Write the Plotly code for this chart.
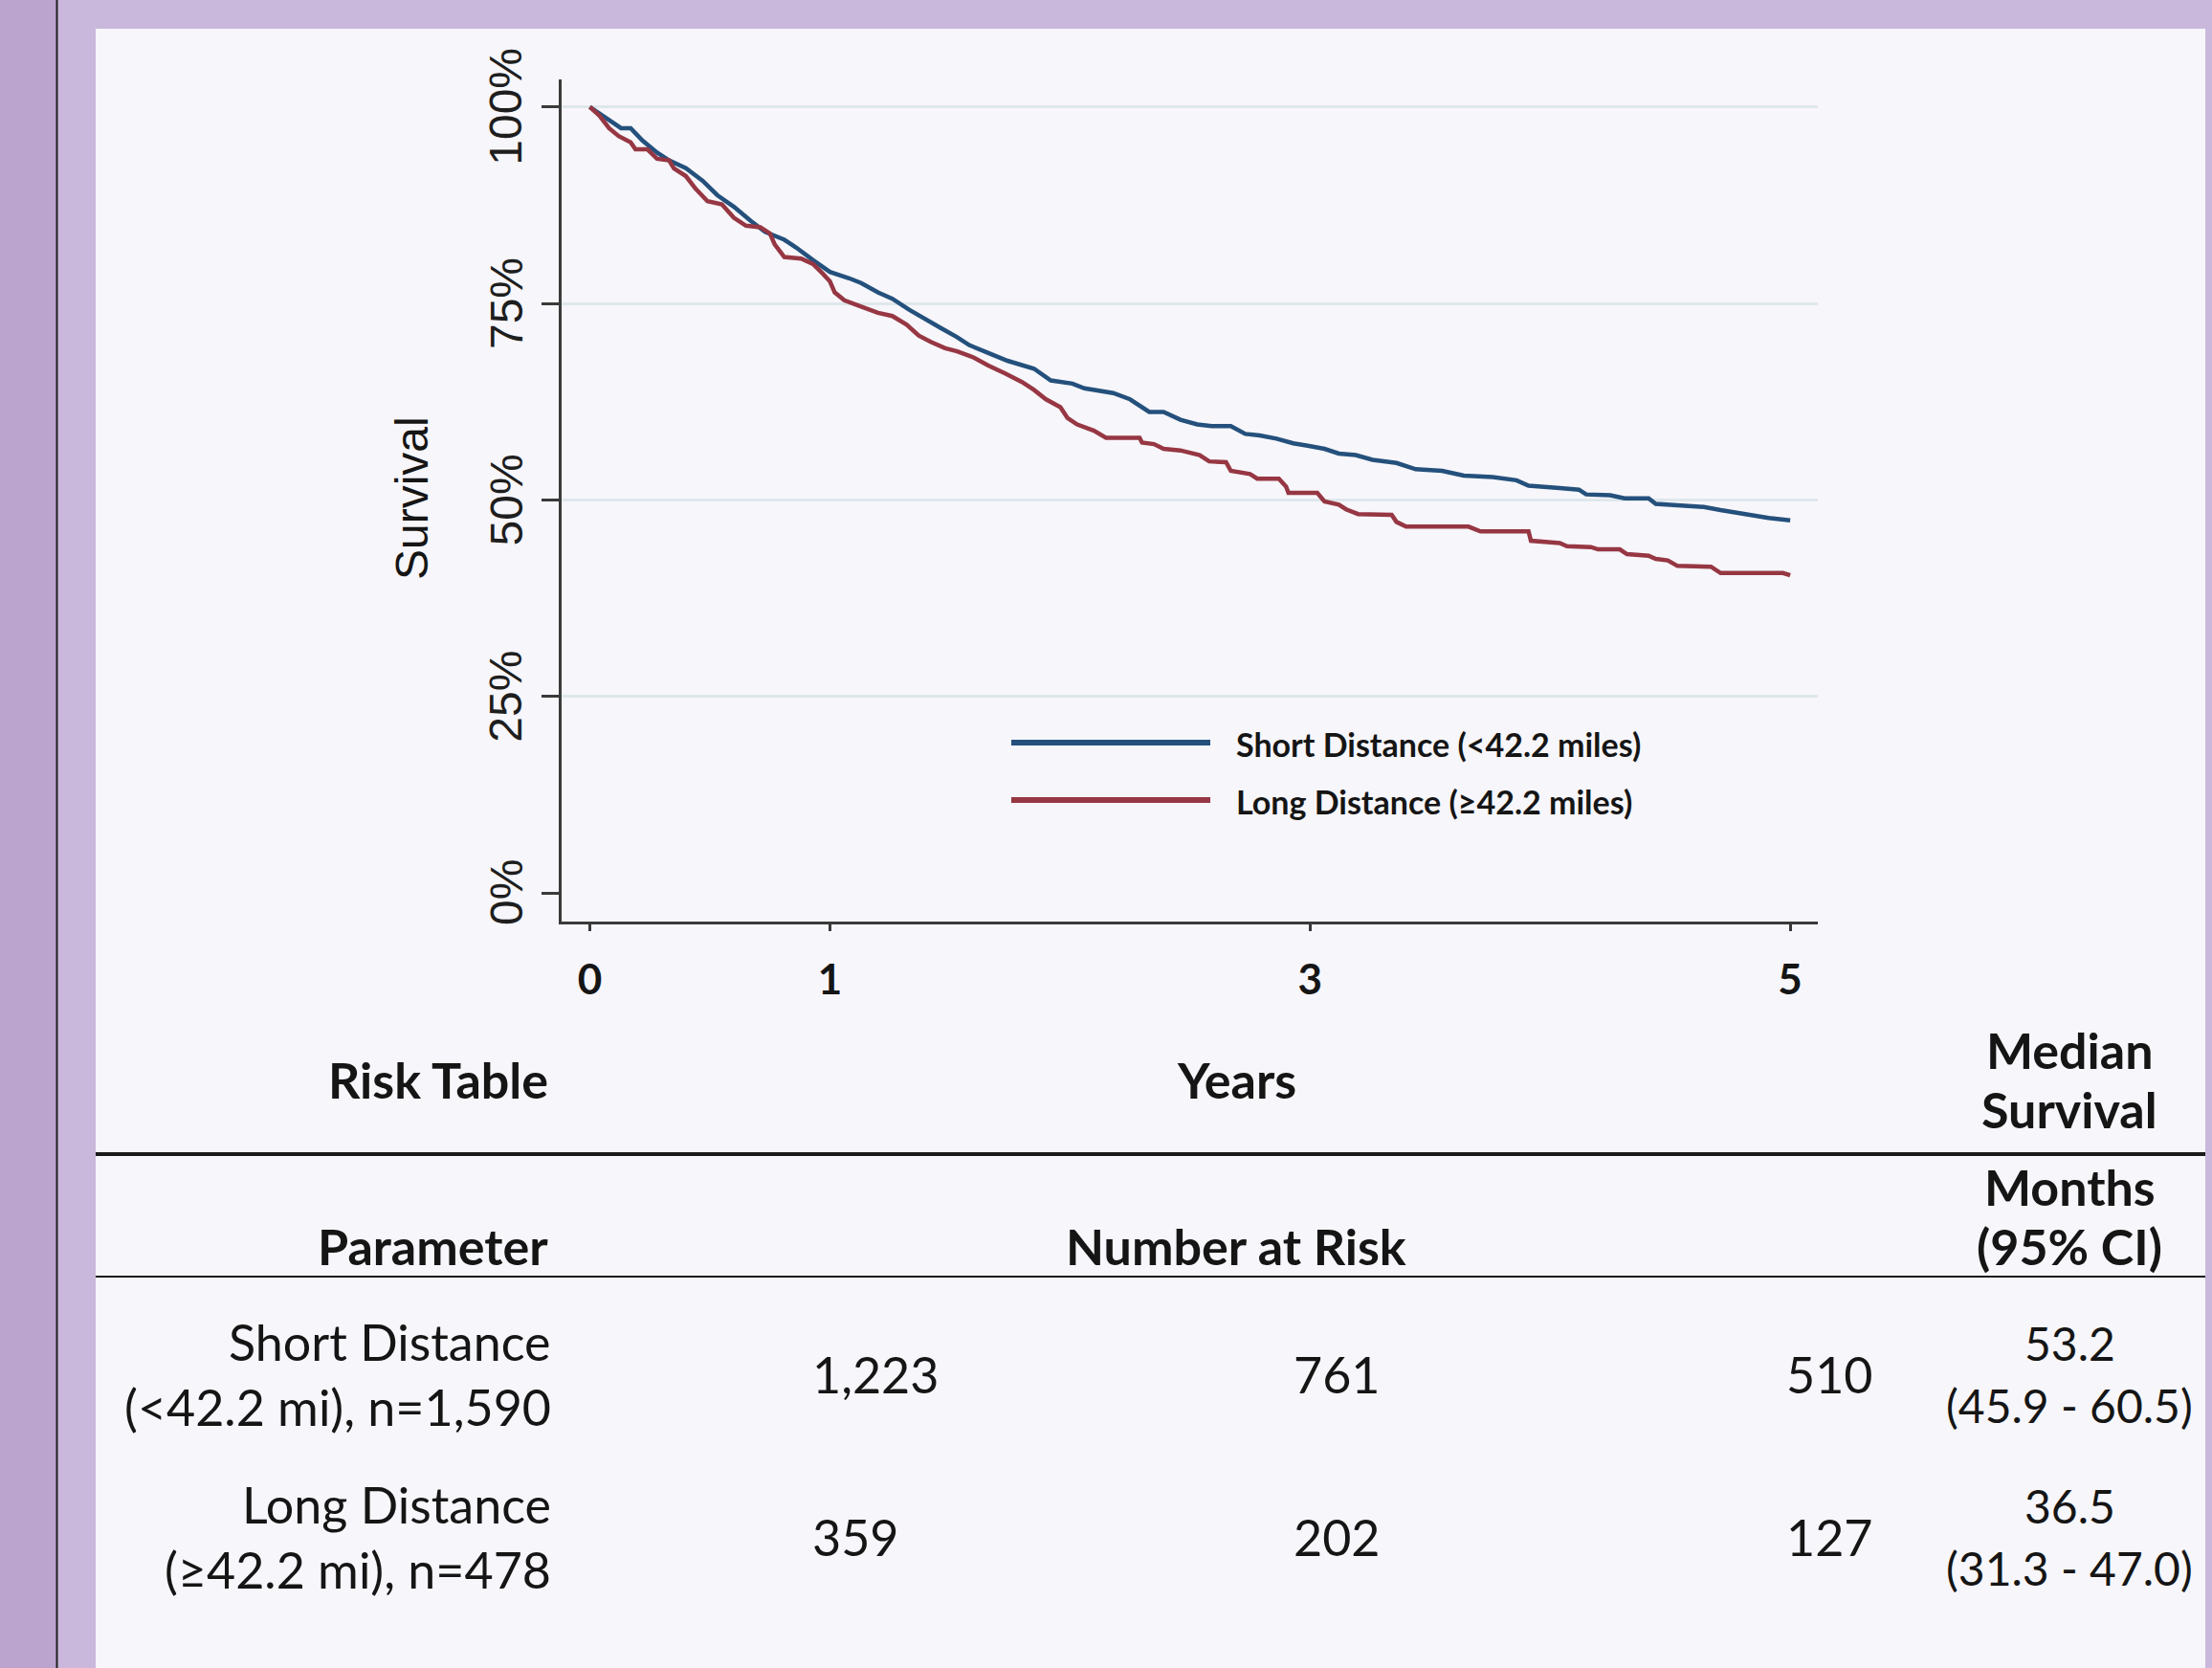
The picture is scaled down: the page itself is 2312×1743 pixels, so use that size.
import plotly.graph_objects as go

W, H = 2312, 1743

# ------------------------------------------------------------------ data
series_names = ["Short Distance (&lt;42.2 miles)", "Long Distance (≥42.2 miles)"]
series_colors = ["#24507C", "#963743"]

short_t = [0.00, 0.07, 0.13, 0.17, 0.22, 0.28, 0.33, 0.40, 0.47, 0.53, 0.60, 0.67, 0.73, 0.81,
           0.86, 0.93, 1.00, 1.08, 1.13, 1.20, 1.26, 1.33, 1.40, 1.46, 1.53, 1.58, 1.66, 1.74,
           1.85, 1.92, 2.01, 2.06, 2.18, 2.25, 2.33, 2.39, 2.46, 2.53, 2.59, 2.67, 2.73, 2.79,
           2.86, 2.93, 2.99, 3.06, 3.12, 3.19, 3.26, 3.30, 3.36, 3.44, 3.55, 3.64, 3.76, 3.86,
           3.91, 4.04, 4.12, 4.15, 4.25, 4.31, 4.41, 4.44, 4.53, 4.64, 4.71, 4.77, 4.84, 4.91, 5.00]
short_s = [100.0, 98.5, 97.3, 97.3, 95.7, 94.2, 93.2, 92.2, 90.6, 88.8, 87.3, 85.5, 84.1, 83.1,
           82.1, 80.5, 79.0, 78.2, 77.6, 76.4, 75.6, 74.2, 72.9, 71.9, 70.7, 69.7, 68.7, 67.7,
           66.7, 65.2, 64.8, 64.2, 63.6, 62.8, 61.2, 61.2, 60.2, 59.6, 59.4, 59.4, 58.4, 58.2,
           57.8, 57.2, 56.9, 56.5, 55.9, 55.7, 55.1, 54.9, 54.7, 53.9, 53.7, 53.1, 52.9, 52.5,
           51.8, 51.5, 51.3, 50.7, 50.6, 50.2, 50.2, 49.5, 49.3, 49.1, 48.7, 48.4, 48.1, 47.7, 47.4]

long_t = [0.00, 0.04, 0.08, 0.12, 0.17, 0.19, 0.24, 0.28, 0.33, 0.35, 0.40, 0.44, 0.49, 0.55,
          0.60, 0.65, 0.71, 0.75, 0.77, 0.81, 0.88, 0.93, 0.97, 1.00, 1.02, 1.06, 1.13, 1.20,
          1.26, 1.32, 1.37, 1.42, 1.48, 1.53, 1.60, 1.66, 1.73, 1.80, 1.85, 1.90, 1.96, 1.99,
          2.03, 2.10, 2.15, 2.29, 2.30, 2.35, 2.39, 2.46, 2.54, 2.58, 2.65, 2.67, 2.75, 2.78,
          2.87, 2.90, 2.91, 3.03, 3.06, 3.12, 3.15, 3.20, 3.34, 3.36, 3.40, 3.66, 3.71, 3.91,
          3.92, 4.04, 4.07, 4.17, 4.20, 4.29, 4.32, 4.41, 4.44, 4.49, 4.53, 4.67, 4.71, 4.97, 5.00]
long_s = [100.0, 98.9, 97.3, 96.3, 95.5, 94.6, 94.6, 93.4, 93.2, 92.2, 91.2, 89.6, 88.0, 87.6,
          85.9, 84.9, 84.7, 83.9, 82.5, 80.9, 80.7, 80.0, 78.8, 77.8, 76.4, 75.4, 74.6, 73.8,
          73.4, 72.3, 70.9, 70.1, 69.3, 68.9, 68.1, 67.1, 66.1, 65.0, 64.0, 62.8, 61.8, 60.4,
          59.6, 58.8, 57.9, 57.9, 57.3, 57.1, 56.5, 56.3, 55.7, 54.9, 54.8, 53.7, 53.3, 52.7,
          52.7, 51.7, 50.9, 50.9, 49.8, 49.4, 48.8, 48.2, 48.1, 47.2, 46.6, 46.6, 46.0, 46.0,
          44.8, 44.5, 44.1, 44.0, 43.7, 43.7, 43.1, 42.9, 42.5, 42.3, 41.6, 41.5, 40.7, 40.7, 40.4]

x_tick_vals = [0, 1, 3, 5]
y_tick_vals = [0, 25, 50, 75, 100]
y_tick_text = ["0%", "25%", "50%", "75%", "100%"]
y_grid_vals = [25, 50, 75, 100]

row_label_line1 = ["Short Distance", "Long Distance"]
row_label_line2 = ["(&lt;42.2 mi), n=1,590", "(≥42.2 mi), n=478"]
at_risk = [["1,223", "761", "510"], ["359", "202", "127"]]
median_value = ["53.2", "36.5"]
median_ci = ["(45.9 - 60.5)", "(31.3 - 47.0)"]

# ------------------------------------------------------------------ helpers
def px(x):
    return x / W

def py(y):
    return 1 - y / H

TXT = "#151515"
TABLE_FONT = "Lato"
AX_FONT = "Liberation Sans"

annotations = []

def txt(x, y, s, anchor="center", size=52, bold=False, family=TABLE_FONT, angle=0,
        yref="paper", color=TXT):
    annotations.append(dict(
        x=px(x), y=(py(y) if yref == "paper" else y), xref="paper", yref=yref,
        text=("<b>%s</b>" % s) if bold else s, showarrow=False,
        xanchor=anchor, yanchor="middle", textangle=angle,
        font=dict(size=size, family=family, color=color)))

shapes = []

def rect(x0, y0, x1, y1, color):
    shapes.append(dict(type="rect", xref="paper", yref="paper", layer="below",
                       x0=px(x0), x1=px(x1), y0=py(y1), y1=py(y0),
                       fillcolor=color, line=dict(width=0)))

def hline(x0, x1, y, color, width):
    shapes.append(dict(type="line", xref="paper", yref="paper",
                       x0=px(x0), x1=px(x1), y0=py(y), y1=py(y),
                       line=dict(color=color, width=width)))

# ------------------------------------------------------------------ figure
fig = go.Figure()

for t, s, name, col in [(short_t, short_s, series_names[0], series_colors[0]),
                        (long_t, long_s, series_names[1], series_colors[1])]:
    fig.add_trace(go.Scatter(x=t, y=s, mode="lines", name=name, showlegend=False,
                             line=dict(color=col, width=4.5, shape="linear")))

# invisible trace on secondary axis to carry the grid lines (no grid at 0%)
fig.add_trace(go.Scatter(x=[0], y=[50], yaxis="y2", mode="markers",
                         marker=dict(opacity=0), showlegend=False, hoverinfo="skip"))

# background panels
rect(0, 0, W, H, "#C9B8DB")
rect(0, 0, 59, H, "#BBA5CF")
rect(100, 30, 2305, H, "#F7F6FA")
shapes.append(dict(type="line", xref="paper", yref="paper", x0=px(59.5), x1=px(59.5),
                   y0=0, y1=1, line=dict(color="#202020", width=2)))

# custom legend
leg_y = [776, 836]
for i in range(2):
    hline(1057, 1265, leg_y[i], series_colors[i], 6)
    txt(1290, leg_y[i] + 1, series_names[i], anchor="left", size=34, bold=True)

# y axis title and rotated tick labels (placed on the y scale)
txt(430, 521, "Survival", size=48, family=AX_FONT, angle=-90)
for v, lab in zip(y_tick_vals, y_tick_text):
    txt(529, v, lab, size=48, family=AX_FONT, angle=-90, yref="y", color="#1e1e1e")

# risk table
txt(575, 1128, "Risk Table", anchor="right", bold=True)
txt(1292, 1128, "Years", bold=True)
txt(2163, 1097, "Median", bold=True)
txt(2163, 1159, "Survival", bold=True)
hline(100, 2305, 1206, "#1a1a1a", 4)
txt(2163, 1240, "Months", bold=True)
txt(2163, 1302, "(95% CI)", bold=True)
txt(575, 1302, "Parameter", anchor="right", bold=True)
txt(1292, 1302, "Number at Risk", bold=True)
hline(100, 2305, 1334, "#1a1a1a", 2)

row_y = [1436, 1606]
col_x = [849, 1352, 1867]
for r in range(2):
    yc = row_y[r]
    txt(578, yc - 34, row_label_line1[r], anchor="right")
    txt(578, yc + 34, row_label_line2[r], anchor="right")
    for c in range(3):
        txt(col_x[c] - 2, yc, at_risk[r][c], anchor="left")
    txt(2163, yc - 33, median_value[r], size=48)
    txt(2163, yc + 32, median_ci[r], size=48)

x_rng = [-0.1176, 5.115]
y_rng = [-3.65, 103.5]

fig.update_layout(
    width=W, height=H,
    margin=dict(l=0, r=0, t=0, b=0, pad=0, autoexpand=False),
    paper_bgcolor="#C9B8DB",
    plot_bgcolor="rgba(0,0,0,0)",
    shapes=shapes,
    annotations=annotations,
    xaxis=dict(domain=[px(587), px(1900)], range=x_rng, tickvals=x_tick_vals,
               ticktext=["<b>%d</b>" % v for v in x_tick_vals], automargin=False,
               showgrid=False, zeroline=False, showline=True, linecolor="#3a3a3a", linewidth=3,
               ticks="outside", ticklen=7, tickwidth=3, tickcolor="#3a3a3a",
               ticklabelstandoff=13,
               tickfont=dict(family=TABLE_FONT, size=44, color=TXT)),
    yaxis=dict(domain=[py(963), py(83)], range=y_rng, tickvals=y_tick_vals,
               showticklabels=False, automargin=False,
               showgrid=False, zeroline=False, showline=True, linecolor="#3a3a3a", linewidth=3,
               ticks="outside", ticklen=18, tickwidth=3, tickcolor="#3a3a3a"),
    yaxis2=dict(domain=[py(963), py(83)], range=y_rng, overlaying="y", tickvals=y_grid_vals,
                automargin=False,
                showgrid=True, gridcolor="#DFE7EB", gridwidth=3, showticklabels=False,
                zeroline=False, showline=False, ticks=""),
)

fig.write_html("out.html", config={"displayModeBar": False},
               post_script="document.body.style.margin='0px';")
